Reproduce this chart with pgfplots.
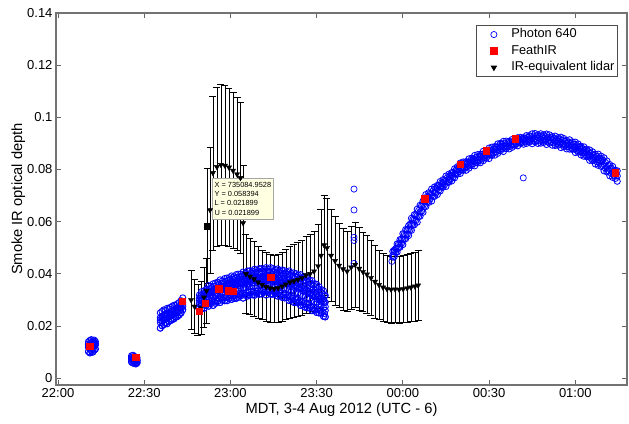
\documentclass[border=0pt]{standalone}
\usepackage{fontspec}
\setmainfont{Liberation Sans}
\usepackage{pgfplots}
\usepackage{pgfplotstable}
\pgfplotsset{compat=1.18}

% Photon 640, segments with five samples across the band
\pgfplotstableread{
t a b c d e
10.6 0.0102 0.0118 0.0131 0.0140 0.0125
11.1 0.0097 0.0112 0.0126 0.0145 0.0119
11.6 0.0105 0.0121 0.0135 0.0148 0.0128
12.1 0.0100 0.0116 0.0129 0.0143 0.0122
12.6 0.0108 0.0124 0.0138 0.0146 0.0131
13.0 0.0112 0.0127 0.0134 0.0141 0.0131
25.6 0.0062 0.0071 0.0080 0.0086 0.0075
26.1 0.0058 0.0068 0.0077 0.0088 0.0072
26.6 0.0060 0.0066 0.0074 0.0083 0.0070
27.1 0.0055 0.0064 0.0072 0.0081 0.0068
27.5 0.0059 0.0065 0.0070 0.0078 0.0068
35.6 0.0192 0.0214 0.0232 0.0251 0.0223
36.2 0.0201 0.0220 0.0238 0.0256 0.0229
36.8 0.0205 0.0223 0.0241 0.0262 0.0232
37.4 0.0212 0.0229 0.0246 0.0260 0.0237
38.0 0.0209 0.0231 0.0250 0.0268 0.0240
38.6 0.0218 0.0235 0.0252 0.0266 0.0243
39.2 0.0221 0.0240 0.0255 0.0272 0.0247
39.8 0.0225 0.0243 0.0260 0.0276 0.0251
40.4 0.0228 0.0246 0.0263 0.0280 0.0254
41.0 0.0234 0.0250 0.0268 0.0279 0.0259
41.6 0.0237 0.0254 0.0270 0.0286 0.0262
42.2 0.0243 0.0259 0.0275 0.0290 0.0267
42.8 0.0250 0.0265 0.0280 0.0297 0.0272
43.4 0.0262 0.0275 0.0290 0.0308 0.0282
49.2 0.0269 0.0286 0.0306 0.0319 0.0298
50.0 0.0268 0.0295 0.0309 0.0332 0.0300
50.8 0.0268 0.0295 0.0320 0.0335 0.0310
51.6 0.0279 0.0301 0.0321 0.0341 0.0309
52.4 0.0276 0.0305 0.0333 0.0355 0.0321
53.2 0.0286 0.0308 0.0333 0.0352 0.0318
54.0 0.0279 0.0315 0.0335 0.0362 0.0327
54.8 0.0287 0.0315 0.0342 0.0365 0.0326
55.6 0.0294 0.0321 0.0344 0.0368 0.0335
56.4 0.0290 0.0318 0.0351 0.0377 0.0332
57.2 0.0299 0.0323 0.0352 0.0373 0.0340
58.0 0.0297 0.0331 0.0352 0.0382 0.0339
58.8 0.0297 0.0329 0.0360 0.0384 0.0347
59.6 0.0306 0.0334 0.0359 0.0385 0.0344
60.4 0.0302 0.0336 0.0365 0.0392 0.0353
61.2 0.0306 0.0336 0.0366 0.0389 0.0349
62.0 0.0306 0.0343 0.0365 0.0397 0.0356
62.8 0.0310 0.0341 0.0372 0.0399 0.0354
63.6 0.0316 0.0346 0.0372 0.0399 0.0361
64.4 0.0307 0.0347 0.0378 0.0407 0.0360
65.2 0.0318 0.0347 0.0379 0.0403 0.0365
66.0 0.0315 0.0354 0.0377 0.0411 0.0363
66.8 0.0319 0.0351 0.0383 0.0412 0.0369
67.6 0.0320 0.0355 0.0382 0.0411 0.0366
68.4 0.0318 0.0355 0.0388 0.0418 0.0374
69.2 0.0325 0.0354 0.0387 0.0413 0.0368
70.0 0.0322 0.0360 0.0384 0.0420 0.0374
70.8 0.0323 0.0357 0.0390 0.0420 0.0371
71.6 0.0329 0.0360 0.0388 0.0418 0.0376
72.4 0.0319 0.0358 0.0393 0.0424 0.0373
73.2 0.0329 0.0358 0.0391 0.0417 0.0377
74.0 0.0322 0.0362 0.0386 0.0424 0.0372
74.8 0.0322 0.0356 0.0390 0.0420 0.0375
75.6 0.0324 0.0357 0.0386 0.0416 0.0369
76.4 0.0315 0.0354 0.0389 0.0419 0.0374
77.2 0.0318 0.0350 0.0385 0.0412 0.0365
78.0 0.0310 0.0353 0.0379 0.0415 0.0368
78.8 0.0308 0.0346 0.0382 0.0412 0.0362
79.6 0.0309 0.0345 0.0377 0.0408 0.0363
80.4 0.0298 0.0341 0.0378 0.0411 0.0357
81.2 0.0300 0.0336 0.0373 0.0402 0.0357
82.0 0.0291 0.0337 0.0366 0.0404 0.0349
82.8 0.0290 0.0329 0.0368 0.0401 0.0351
83.6 0.0290 0.0327 0.0361 0.0395 0.0342
84.4 0.0279 0.0322 0.0361 0.0397 0.0344
85.2 0.0281 0.0316 0.0355 0.0387 0.0334
86.0 0.0272 0.0316 0.0347 0.0388 0.0334
86.8 0.0270 0.0308 0.0348 0.0383 0.0326
87.6 0.0270 0.0305 0.0339 0.0375 0.0324
88.4 0.0259 0.0299 0.0338 0.0374 0.0317
89.2 0.0261 0.0292 0.0330 0.0362 0.0313
90.0 0.0252 0.0292 0.0320 0.0360 0.0304
90.8 0.0250 0.0283 0.0318 0.0351 0.0303
91.6 0.0250 0.0279 0.0308 0.0340 0.0292
92.4 0.0237 0.0270 0.0303 0.0335 0.0289
93.0 0.0235 0.0260 0.0291 0.0317 0.0274
}\photonA

% Photon 640, in-between samples of the 22:49--23:33 segment
\pgfplotstableread{
t p q r
49.6 0.0281 0.0307 0.0315
50.4 0.0280 0.0313 0.0323
51.2 0.0286 0.0318 0.0327
52.0 0.0290 0.0323 0.0337
52.8 0.0293 0.0328 0.0343
53.6 0.0295 0.0331 0.0346
54.4 0.0295 0.0334 0.0352
55.2 0.0303 0.0339 0.0355
56.0 0.0304 0.0342 0.0361
56.8 0.0307 0.0344 0.0364
57.6 0.0310 0.0348 0.0366
58.4 0.0309 0.0351 0.0372
59.2 0.0314 0.0354 0.0374
60.0 0.0316 0.0357 0.0377
60.8 0.0316 0.0359 0.0380
61.6 0.0318 0.0361 0.0382
62.4 0.0320 0.0363 0.0387
63.2 0.0325 0.0366 0.0388
64.0 0.0324 0.0369 0.0392
64.8 0.0324 0.0371 0.0394
65.6 0.0328 0.0372 0.0396
66.4 0.0329 0.0374 0.0400
67.2 0.0331 0.0376 0.0401
68.0 0.0331 0.0378 0.0403
68.8 0.0334 0.0379 0.0405
69.6 0.0335 0.0379 0.0405
70.4 0.0334 0.0381 0.0409
71.2 0.0338 0.0381 0.0408
72.0 0.0336 0.0382 0.0410
72.8 0.0336 0.0383 0.0409
73.6 0.0337 0.0382 0.0409
74.4 0.0334 0.0381 0.0411
75.2 0.0335 0.0380 0.0407
76.0 0.0331 0.0379 0.0406
76.8 0.0328 0.0377 0.0404
77.6 0.0326 0.0374 0.0402
78.4 0.0321 0.0373 0.0402
79.2 0.0320 0.0370 0.0399
80.0 0.0315 0.0368 0.0398
80.8 0.0311 0.0365 0.0395
81.6 0.0307 0.0361 0.0392
82.4 0.0302 0.0358 0.0391
83.2 0.0302 0.0354 0.0387
84.0 0.0296 0.0351 0.0385
84.8 0.0292 0.0347 0.0381
85.6 0.0288 0.0342 0.0376
86.4 0.0283 0.0338 0.0374
87.2 0.0282 0.0333 0.0368
88.0 0.0276 0.0328 0.0363
88.8 0.0272 0.0323 0.0357
89.6 0.0268 0.0316 0.0350
90.4 0.0263 0.0311 0.0344
91.2 0.0262 0.0305 0.0334
92.0 0.0255 0.0298 0.0326
92.7 0.0248 0.0290 0.0315
}\photonC

% Photon 640, last segment with three samples across the band
\pgfplotstableread{
t a b c
116.5 0.0464 0.0471 0.0486
117 0.0466 0.0484 0.0491
118 0.0483 0.0497 0.0515
119 0.0502 0.0516 0.0531
120 0.0512 0.0533 0.0554
121 0.0535 0.0549 0.0570
122 0.0547 0.0572 0.0585
123 0.0567 0.0588 0.0613
124 0.0588 0.0607 0.0627
125 0.0598 0.0623 0.0648
126 0.0621 0.0638 0.0663
127 0.0636 0.0663 0.0679
128 0.0658 0.0679 0.0704
129 0.0674 0.0692 0.0711
130 0.0679 0.0702 0.0725
131 0.0697 0.0711 0.0733
132 0.0704 0.0727 0.0739
133 0.0718 0.0734 0.0754
134 0.0732 0.0746 0.0761
135 0.0735 0.0755 0.0775
136 0.0751 0.0762 0.0782
137 0.0756 0.0777 0.0788
138 0.0768 0.0783 0.0803
139 0.0782 0.0796 0.0811
140 0.0785 0.0805 0.0825
141 0.0797 0.0809 0.0829
142 0.0797 0.0819 0.0830
143 0.0805 0.0821 0.0841
144 0.0815 0.0829 0.0844
145 0.0814 0.0834 0.0854
146 0.0825 0.0837 0.0857
147 0.0826 0.0848 0.0859
148 0.0834 0.0850 0.0870
149 0.0843 0.0857 0.0872
150 0.0842 0.0862 0.0882
151 0.0854 0.0866 0.0886
152 0.0855 0.0877 0.0888
153 0.0862 0.0878 0.0898
154 0.0872 0.0886 0.0901
155 0.0869 0.0889 0.0908
156 0.0880 0.0891 0.0909
157 0.0879 0.0899 0.0908
158 0.0885 0.0898 0.0915
159 0.0893 0.0904 0.0915
160 0.0891 0.0907 0.0922
161 0.0901 0.0908 0.0923
162 0.0897 0.0915 0.0922
163 0.0900 0.0913 0.0930
164 0.0905 0.0917 0.0930
165 0.0899 0.0918 0.0937
166 0.0906 0.0918 0.0938
167 0.0900 0.0922 0.0933
168 0.0901 0.0917 0.0937
169 0.0904 0.0918 0.0933
170 0.0896 0.0916 0.0936
171 0.0901 0.0913 0.0933
172 0.0893 0.0915 0.0926
173 0.0892 0.0908 0.0928
174 0.0893 0.0907 0.0922
175 0.0884 0.0904 0.0924
176 0.0887 0.0899 0.0919
177 0.0879 0.0901 0.0912
178 0.0878 0.0894 0.0914
179 0.0877 0.0891 0.0906
180 0.0865 0.0885 0.0905
181 0.0866 0.0878 0.0898
182 0.0856 0.0878 0.0889
183 0.0851 0.0867 0.0887
184 0.0849 0.0863 0.0878
185 0.0835 0.0855 0.0875
186 0.0834 0.0847 0.0868
187 0.0821 0.0845 0.0859
188 0.0816 0.0836 0.0859
189 0.0812 0.0831 0.0851
190 0.0795 0.0820 0.0845
191 0.0791 0.0808 0.0833
192 0.0776 0.0803 0.0819
193 0.0770 0.0789 0.0812
194 0.0766 0.0781 0.0797
194.6 0.0755 0.0775 0.0795
}\photonB

% Photon 640, in-between samples of the last segment
\pgfplotstableread{
t p q
117.5 0.0483 0.0497
118.5 0.0500 0.0515
119.5 0.0516 0.0534
120.5 0.0532 0.0552
121.5 0.0551 0.0569
122.5 0.0569 0.0590
123.5 0.0588 0.0609
124.5 0.0604 0.0626
125.5 0.0620 0.0643
126.5 0.0640 0.0661
127.5 0.0659 0.0681
128.5 0.0676 0.0697
129.5 0.0687 0.0708
130.5 0.0697 0.0718
131.5 0.0710 0.0728
132.5 0.0721 0.0739
133.5 0.0733 0.0749
134.5 0.0742 0.0759
135.5 0.0751 0.0769
136.5 0.0761 0.0777
137.5 0.0771 0.0788
138.5 0.0782 0.0798
139.5 0.0792 0.0809
140.5 0.0799 0.0817
141.5 0.0806 0.0822
142.5 0.0811 0.0828
143.5 0.0818 0.0834
144.5 0.0823 0.0840
145.5 0.0828 0.0846
146.5 0.0834 0.0850
147.5 0.0840 0.0857
148.5 0.0846 0.0862
149.5 0.0851 0.0868
150.5 0.0856 0.0874
151.5 0.0863 0.0879
152.5 0.0868 0.0885
153.5 0.0875 0.0891
154.5 0.0879 0.0896
155.5 0.0882 0.0899
156.5 0.0887 0.0902
157.5 0.0890 0.0905
158.5 0.0895 0.0908
159.5 0.0899 0.0912
160.5 0.0902 0.0915
161.5 0.0905 0.0917
162.5 0.0906 0.0920
163.5 0.0909 0.0923
164.5 0.0910 0.0926
165.5 0.0910 0.0928
166.5 0.0912 0.0928
167.5 0.0910 0.0927
168.5 0.0910 0.0926
169.5 0.0909 0.0926
170.5 0.0906 0.0924
171.5 0.0906 0.0922
172.5 0.0902 0.0919
173.5 0.0900 0.0916
174.5 0.0897 0.0914
175.5 0.0894 0.0912
176.5 0.0892 0.0908
177.5 0.0888 0.0905
178.5 0.0885 0.0901
179.5 0.0880 0.0897
180.5 0.0874 0.0892
181.5 0.0870 0.0886
182.5 0.0863 0.0880
183.5 0.0858 0.0874
184.5 0.0851 0.0868
185.5 0.0843 0.0861
186.5 0.0837 0.0855
187.5 0.0830 0.0850
188.5 0.0824 0.0844
189.5 0.0815 0.0837
190.5 0.0804 0.0827
191.5 0.0795 0.0816
192.5 0.0785 0.0806
193.5 0.0777 0.0795
}\photonD

\pgfplotstableread{
t y
103.0 0.0725
103.0 0.0645
103.0 0.0540
103.0 0.0528
103.0 0.0440
116.2 0.0448
161.9 0.0768
}\photonOut

\pgfplotstableread{
t y
11.1 0.0123
27.1 0.0081
43.2 0.0295
49.1 0.0257
51.2 0.0288
56.0 0.0344
59.2 0.0336
60.8 0.0334
74.1 0.0387
127.7 0.0688
139.9 0.0821
149.0 0.0871
159.1 0.0917
193.9 0.0787
}\feath

\pgfplotstableread{
t y e
46.3 0.0300 0.0113
47.5 0.0275 0.0103
48.7 0.0262 0.0098
49.8 0.0270 0.0101
50.8 0.0310 0.0116
51.7 0.0335 0.0126
52.0 0.0584 0.0219
52.9 0.0645 0.0242
53.9 0.0787 0.0295
55.3 0.0810 0.0304
56.7 0.0818 0.0307
58.1 0.0815 0.0306
59.5 0.0808 0.0303
60.9 0.0796 0.0299
62.3 0.0782 0.0293
63.5 0.0768 0.0288
64.4 0.0595 0.0223
65.4 0.0400 0.0150
66.8 0.0390 0.0146
68.2 0.0380 0.0143
69.6 0.0368 0.0138
71.0 0.0358 0.0134
72.4 0.0350 0.0131
73.8 0.0345 0.0129
75.2 0.0343 0.0129
76.6 0.0346 0.0130
78.0 0.0352 0.0132
79.3 0.0360 0.0135
80.7 0.0368 0.0138
82.1 0.0372 0.0140
83.5 0.0378 0.0142
84.9 0.0385 0.0144
86.3 0.0395 0.0148
87.7 0.0400 0.0150
89.1 0.0410 0.0154
90.5 0.0430 0.0161
91.5 0.0470 0.0176
92.6 0.0510 0.0191
93.6 0.0500 0.0188
95.0 0.0470 0.0176
96.4 0.0450 0.0169
97.8 0.0432 0.0162
99.2 0.0418 0.0157
100.6 0.0410 0.0154
102.0 0.0425 0.0159
103.4 0.0435 0.0163
104.8 0.0420 0.0158
106.1 0.0408 0.0153
107.5 0.0398 0.0149
108.9 0.0385 0.0144
110.3 0.0370 0.0139
111.7 0.0358 0.0134
113.1 0.0348 0.0131
114.5 0.0342 0.0128
115.9 0.0340 0.0128
117.3 0.0341 0.0128
118.7 0.0340 0.0128
120.1 0.0342 0.0128
121.5 0.0345 0.0129
122.8 0.0348 0.0131
124.2 0.0352 0.0132
125.3 0.0356 0.0134
}\lidar

\pgfplotsset{photon/.style={only marks, mark=o, color={rgb,255:red,0;green,0;blue,255}, mark size=3.1pt, line width=0.85pt}}

\begin{document}
\begin{tikzpicture}
\begin{axis}[
  width=571pt, height=372pt, scale only axis,
  xmin=-0.7, xmax=198.0, ymin=-0.0026, ymax=0.14,
  xtick={0,30,60,90,120,150,180},
  xticklabels={22:00,22:30,23:00,23:30,00:00,00:30,01:00},
  ytick={0,0.02,0.04,0.06,0.08,0.1,0.12,0.14},
  scaled y ticks=false,
  yticklabel style={/pgf/number format/fixed, /pgf/number format/precision=2},
  /pgf/number format/assume math mode=true,
  tick align=inside,
  major tick length=5pt,
  axis line style={black!55, line width=1.1pt},
  tick style={black!60, line width=0.9pt},
  ticklabel style={font=\fontsize{13}{15}\selectfont},
  label style={font=\fontsize{14.7}{17}\selectfont},
  xlabel={MDT, 3-4 Aug 2012 (UTC - 6)},
  ylabel={Smoke IR optical depth},
  xlabel shift=-2pt,
  ylabel shift=-5pt,
  legend cell align=left,
  legend style={at={(0.984,0.968)}, anchor=north east,
    draw=black!70, line width=0.8pt,
    font=\fontsize{12.8}{14}\selectfont,
    inner sep=1pt,
    nodes={inner xsep=2pt, inner ysep=2pt, text height=9.5pt, text depth=3pt}},
  legend image code/.code={\path (0pt,0pt) (31pt,0pt); \draw[#1] plot coordinates {(16pt,0pt)};},
]
\addplot[photon, line width=0.7pt] table[x=t,y=a]{\photonA};
\addlegendentry{Photon 640}
\addplot[forget plot, photon] table[x=t,y=a]{\photonA};
\addplot[forget plot, photon] table[x=t,y=b]{\photonA};
\addplot[forget plot, photon] table[x=t,y=c]{\photonA};
\addplot[forget plot, photon] table[x=t,y=d]{\photonA};
\addplot[forget plot, photon] table[x=t,y=e]{\photonA};
\addplot[forget plot, photon] table[x=t,y=p]{\photonC};
\addplot[forget plot, photon] table[x=t,y=q]{\photonC};
\addplot[forget plot, photon] table[x=t,y=r]{\photonC};
\addplot[forget plot, photon] table[x=t,y=a]{\photonB};
\addplot[forget plot, photon] table[x=t,y=b]{\photonB};
\addplot[forget plot, photon] table[x=t,y=c]{\photonB};
\addplot[forget plot, photon] table[x=t,y=p]{\photonD};
\addplot[forget plot, photon] table[x=t,y=q]{\photonD};
\addplot[forget plot, photon, line width=0.7pt] table[x=t,y=y]{\photonOut};
% lidar with error bars
\addplot[forget plot, only marks, black, mark=triangle*, mark size=3pt, mark options={rotate=180},
  error bars/.cd, y dir=both, y explicit,
  error bar style={line width=0.6pt, black},
  error mark options={rotate=90, line width=0.6pt, mark size=3.5pt, black}]
  table[x=t, y=y, y error=e]{\lidar};
% FeathIR
\addplot[only marks, mark=square*, color={rgb,255:red,255;green,0;blue,0}, mark size=3.3pt] table[x=t,y=y]{\feath};
\addlegendentry{FeathIR}
\addlegendimage{only marks, black, mark=triangle*, mark size=3pt, mark options={rotate=180}}
\addlegendentry{IR-equivalent lidar}
% data tip marker
\addplot[forget plot, only marks, mark=square*, black, mark size=3pt] coordinates {(52.0,0.058394)};
\node[anchor=north west, fill={rgb,255:red,255;green,255;blue,225}, draw=black!35, line width=0.6pt,
  inner xsep=2.5pt, inner ysep=4pt, align=left, font=\fontsize{7.4}{9.2}\selectfont]
  at (axis cs:53.5,0.0767) {X = 735084.9528\\Y = 0.058394\\L = 0.021899\\U = 0.021899};
\end{axis}
\pgfresetboundingbox
\path[use as bounding box] (current axis.south west) ++(-56pt,-38pt) rectangle ++(629pt,423pt);
\end{tikzpicture}
\end{document}
